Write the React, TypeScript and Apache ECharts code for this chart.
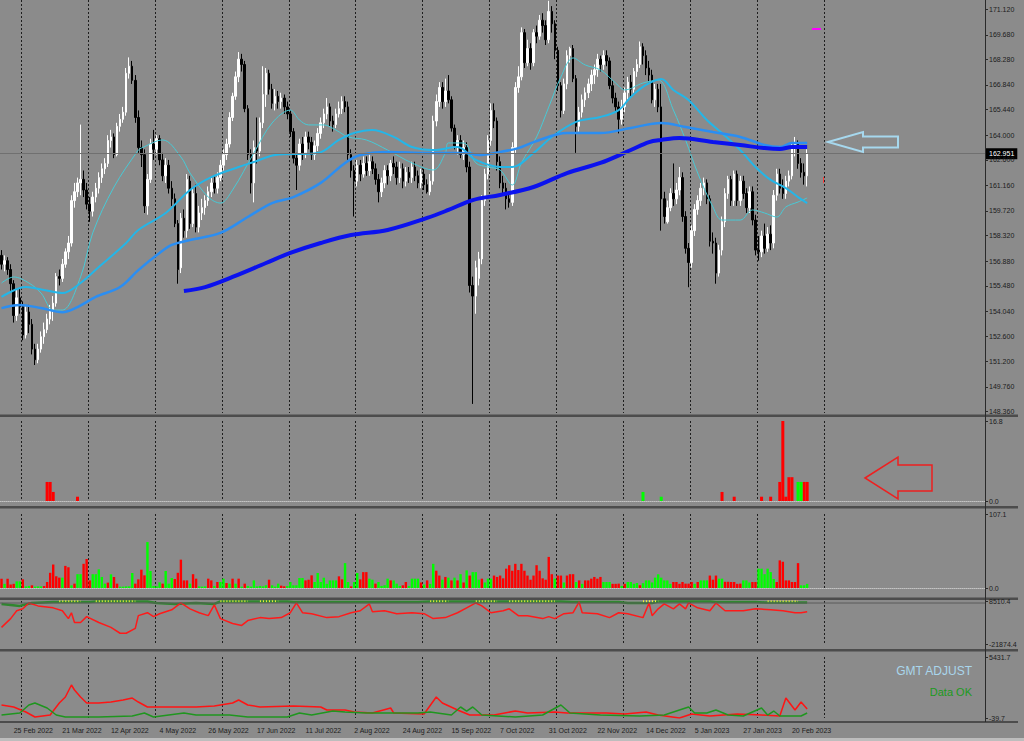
import React, { useEffect, useRef } from 'react';
import * as echarts from 'echarts';

// ---------- data ----------
// candles: [open, close, low, high]
const candles: number[][] = [
  [157.2,156.7,156.4,157.5],[156.7,156.9,156.3,157.2],[156.9,156.4,156.1,157.1],[156.4,155.6,155.2,156.7],[155.6,153.8,153.4,155.8],
  [153.8,154.8,153.5,155.3],[154.8,154.3,153.9,155.3],[154.3,152.7,152.4,154.6],[152.7,154.0,152.5,154.4],[154.0,153.3,152.8,154.4],
  [153.3,151.9,151.6,153.6],[151.9,151.3,151.0,152.2],[151.3,151.9,151.1,152.2],[151.9,152.6,151.7,152.9],[152.6,153.0,152.2,153.4],
  [153.0,153.6,152.8,153.9],[153.6,154.1,153.3,154.4],[154.1,154.5,153.5,154.9],[154.5,156.0,154.3,156.2],[156.0,155.9,155.5,156.4],
  [155.9,156.7,155.7,157.0],[156.7,157.4,156.5,157.6],[157.4,157.9,157.0,158.3],[157.9,160.3,157.7,160.6],[160.3,160.8,159.9,161.3],
  [160.8,161.3,160.5,161.6],[161.3,161.5,160.6,164.6],[161.5,160.9,160.5,162.0],[160.9,160.1,159.8,161.3],[160.1,159.7,159.1,160.5],
  [159.7,160.5,159.4,160.8],[160.5,161.0,160.2,161.3],[161.0,161.6,160.7,161.9],[161.6,162.1,161.3,162.4],[162.1,162.4,161.8,162.7],
  [162.4,163.7,162.2,164.0],[163.7,163.9,163.3,164.3],[163.9,162.9,162.7,164.1],[162.9,164.5,162.8,164.7],[164.5,164.9,164.2,165.2],
  [164.9,165.3,164.7,165.6],[165.3,167.5,165.1,167.8],[167.5,167.9,167.2,168.4],[167.9,167.1,166.9,168.2],[167.1,165.0,164.7,167.4],
  [165.0,163.3,163.0,165.4],[163.3,162.9,162.2,163.7],[162.9,160.0,159.6,163.2],[160.0,161.5,159.5,161.8],[161.5,163.5,161.3,163.8],
  [163.5,163.2,162.6,164.3],[163.2,163.8,162.9,164.0],[163.8,162.6,162.3,164.0],[162.6,161.7,161.4,163.0],[161.7,162.3,161.3,162.7],
  [162.3,161.0,160.7,162.6],[161.0,160.4,160.0,161.4],[160.4,159.0,158.8,160.7],[159.0,156.4,155.6,159.2],[156.5,159.3,156.2,159.6],
  [159.3,158.6,158.2,159.8],[158.6,161.5,158.2,161.8],[161.4,159.0,158.7,161.7],[159.0,160.7,158.8,161.0],[160.7,158.8,158.5,161.2],
  [158.8,159.6,158.5,160.0],[159.6,159.9,159.2,160.4],[159.9,160.3,159.5,160.6],[160.3,160.8,160.0,161.1],[160.8,161.3,160.5,161.6],
  [161.3,161.0,160.7,161.7],[161.0,161.6,160.7,161.9],[161.6,162.3,161.4,162.6],[162.3,162.9,162.0,163.2],[162.9,163.5,162.6,163.8],
  [163.5,165.0,163.3,165.3],[165.0,166.2,164.8,166.4],[166.2,167.3,166.0,167.6],[167.3,168.3,167.0,168.7],[168.3,168.0,167.6,168.6],
  [168.0,165.5,165.3,168.2],[165.5,162.9,162.6,165.7],[162.9,161.3,160.7,163.2],[161.3,163.3,160.2,163.7],[163.3,163.1,162.4,165.0],
  [163.1,164.7,162.8,165.0],[164.7,166.3,164.4,167.9],[166.3,167.5,165.6,167.8],[167.5,166.6,166.3,167.7],[166.6,165.8,165.5,166.9],
  [165.8,166.2,165.4,166.6],[166.2,165.9,165.5,166.5],[165.9,166.1,165.5,166.4],[166.1,165.6,165.2,166.3],[165.6,165.2,164.9,165.9],
  [165.2,164.2,163.9,165.4],[164.2,162.7,162.4,164.4],[162.7,162.3,160.9,163.0],[162.3,163.5,162.0,163.8],[163.5,163.0,162.6,163.9],
  [163.0,163.9,162.7,164.2],[163.9,163.6,163.2,164.2],[163.6,162.9,162.6,163.9],[162.9,163.4,162.6,163.7],[163.4,164.1,163.1,164.4],
  [164.1,164.7,163.8,165.0],[164.7,165.2,164.4,165.5],[165.2,165.6,164.9,166.1],[165.6,164.8,164.5,165.8],[164.8,164.6,164.2,165.1],
  [164.6,165.2,164.4,165.5],[165.2,165.5,165.0,165.9],[165.5,165.9,165.2,166.2],[165.9,165.6,165.3,166.2],[165.6,162.9,162.6,165.9],
  [162.9,162.0,161.6,163.2],[162.0,161.4,159.4,162.3],[161.4,162.3,161.1,162.6],[162.3,161.8,161.4,162.6],[161.8,162.4,161.6,162.8],
  [162.4,162.0,161.7,162.8],[162.0,162.5,161.7,162.9],[162.5,162.1,161.8,162.8],[162.1,161.5,161.2,162.4],[161.5,160.8,160.2,161.8],
  [160.8,161.3,160.5,161.6],[161.3,162.0,161.0,162.3],[162.0,161.7,161.2,162.3],[161.7,162.4,161.4,162.6],[162.4,162.2,161.8,162.8],
  [162.2,161.6,161.2,162.5],[161.6,162.1,161.3,162.5],[162.1,161.4,161.0,162.4],[161.4,161.9,161.1,162.2],[161.9,161.6,161.3,162.2],
  [161.6,162.2,161.3,162.5],[162.2,161.7,161.4,162.5],[161.7,161.3,161.0,162.0],[161.3,161.8,161.0,162.1],[161.8,161.2,160.9,162.1],
  [161.2,160.8,160.7,161.5],[160.8,161.4,160.6,161.8],[161.4,164.8,161.2,165.1],[164.8,165.9,164.5,166.3],[165.9,166.7,165.6,167.0],
  [166.7,165.9,165.5,167.0],[165.9,166.5,165.6,167.2],[166.5,166.0,165.8,167.4],[166.0,164.4,164.2,166.2],[164.4,163.4,163.2,164.6],
  [163.4,163.7,162.9,164.0],[163.7,162.9,162.7,164.0],[162.9,163.3,162.6,163.7],[163.3,162.2,161.9,163.6],[162.2,155.5,155.1,162.5],
  [155.5,154.9,148.8,156.0],[154.9,156.5,153.9,156.9],[155.9,157.0,155.5,157.4],[157.0,160.3,156.7,160.6],[160.3,161.8,160.0,162.1],
  [161.8,163.7,161.5,164.0],[163.7,165.4,163.4,165.8],[165.4,164.8,164.4,165.8],[164.8,162.5,162.0,165.0],[162.5,161.3,161.0,162.8],
  [161.3,161.0,160.6,161.7],[161.0,160.4,159.8,161.3],[160.4,160.2,159.9,160.8],[160.2,163.3,160.0,163.6],[163.3,166.7,163.0,167.0],
  [166.7,167.3,166.4,167.9],[167.3,169.8,167.1,170.1],[169.8,168.1,167.8,170.0],[168.1,168.9,167.9,169.4],[168.9,168.1,167.7,169.2],
  [168.1,169.8,167.9,170.0],[169.8,169.6,169.2,170.2],[169.6,170.5,169.4,170.8],[170.5,170.2,169.8,170.9],[170.2,169.4,169.1,170.5],
  [169.4,171.0,169.2,171.6],[171.0,170.3,169.8,171.3],[170.3,168.8,168.3,170.5],[168.8,166.8,166.5,169.0],[166.8,165.4,165.0,167.0],
  [165.4,166.9,165.2,167.2],[166.9,168.5,166.6,168.8],[168.5,168.9,168.1,169.0],[168.9,167.2,167.0,169.1],[167.2,164.5,163.0,167.4],
  [164.5,165.3,164.2,165.6],[165.3,166.0,165.0,166.3],[166.0,166.4,165.6,166.7],[166.4,166.9,166.1,167.2],[166.9,167.4,166.5,167.7],
  [167.4,167.7,166.9,168.0],[167.7,168.3,167.3,168.6],[168.3,168.0,167.6,168.5],[168.0,168.5,167.7,168.8],[168.5,168.2,167.9,168.8],
  [168.2,166.8,166.6,168.4],[166.8,166.1,165.8,167.1],[166.1,165.6,165.3,166.4],[165.6,164.9,164.1,165.9],[164.9,165.6,164.6,166.0],
  [165.6,166.4,165.3,166.7],[166.4,167.0,166.0,167.3],[167.0,166.6,166.2,167.4],[166.6,167.6,166.4,167.8],[167.6,168.0,167.3,168.3],
  [168.0,169.0,167.8,169.3],[169.0,168.5,168.0,169.2],[168.5,167.8,167.4,168.8],[167.8,167.4,167.0,168.2],[167.4,166.0,165.8,167.7],
  [166.0,166.6,165.6,166.9],[166.6,165.6,165.3,166.9],[165.6,160.4,158.6,166.9],[160.4,159.4,159.0,160.8],[159.1,159.9,159.0,160.3],
  [159.9,160.7,159.7,161.0],[160.7,160.4,160.0,162.4],[160.4,160.9,160.1,161.3],[160.9,161.6,160.6,162.2],[161.6,159.4,159.1,161.9],
  [159.4,157.6,157.3,159.7],[157.6,156.8,155.4,157.9],[156.8,158.6,156.5,158.9],[158.6,159.8,158.3,160.1],[159.8,160.3,159.5,160.6],
  [160.3,161.0,160.0,161.3],[161.0,161.3,160.6,161.6],[161.3,160.4,160.1,161.5],[160.4,158.0,157.7,160.6],[158.0,157.9,157.3,158.5],
  [157.9,156.2,155.6,158.2],[156.2,157.5,156.0,157.8],[157.5,159.1,157.2,159.4],[159.1,160.7,158.8,161.0],[160.7,161.5,160.4,161.7],
  [161.5,160.3,160.0,161.7],[160.3,161.8,160.0,162.0],[161.8,160.3,160.0,162.0],[160.3,161.4,160.0,161.7],[161.4,160.7,160.4,161.7],
  [160.7,159.9,159.6,161.0],[159.9,160.8,159.6,161.1],[160.8,159.2,158.9,161.1],[159.2,157.5,157.2,159.5],[157.5,157.4,156.9,158.3],
  [157.4,158.3,157.1,158.6],[158.3,157.6,157.3,159.0],[157.6,158.4,157.4,158.8],[158.4,157.9,157.5,158.9],[157.9,160.6,157.6,160.9],
  [160.6,161.8,160.3,162.1],[161.8,161.0,160.7,162.1],[161.0,160.7,160.4,161.5],[160.7,161.4,160.4,161.7],[161.4,161.7,161.1,162.0],
  [161.7,163.3,161.5,163.5],[163.3,163.5,162.8,163.9],[163.5,162.4,162.1,163.7],[162.4,161.9,161.6,162.7],[161.9,161.7,161.2,162.4],
  [161.7,162.95,161.1,163.2]
];

// moving-average lines, read as [bar index, price]
const maFast: number[][] = [
  [0,155.64],[4,155.98],[9,155.64],[13,155.07],[17,154.11],[20,154.11],[26,155.98],[30,158.47],[37,161.07],[45,163.16],[46,163.27],
  [53,163.73],[59,162.77],[62,161.86],[68,160.5],[72,160.16],[76,160.9],[83,162.99],[89,164.69],[95,165.42],[98,164.86],[101,164.58],
  [106,164.58],[110,164.29],[114,163.9],[120,163.73],[127,163.16],[135,162.43],[142,162.03],[146,162.99],[147,163.56],[152,163.56],
  [156,162.43],[160,162.2],[164,162.03],[168,161.18],[171,162.43],[176,163.9],[180,165.59],[184,167.29],[188,168.37],[192,167.97],
  [197,167.69],[202,166.95],[205,166.56],[211,166.95],[216,167.12],[221,165.42],[225,163.73],[229,161.86],[234,159.94],[237,159.2],
  [243,159.2],[247,159.77],[251,159.6],[255,159.37],[258,159.94],[262,160.22],[265,160.45]
];
const maMid: number[][] = [
  [0,154.85],[8,155.41],[14,155.24],[20,155.07],[26,155.64],[32,156.54],[41,157.9],[45,158.64],[54,159.6],[62,160.9],[69,161.63],
  [78,162.2],[83,162.48],[90,162.88],[104,162.99],[111,163.73],[116,164.12],[122,164.29],[129,163.9],[135,163.33],[142,163.16],
  [150,163.33],[156,162.6],[164,162.2],[168,162.2],[175,162.99],[181,163.9],[189,164.75],[197,165.03],[203,165.42],[207,166.16],
  [212,166.84],[217,167.18],[221,166.56],[226,165.99],[232,164.86],[237,164.12],[243,163.16],[248,162.2],[253,161.47],[258,161.01],
  [262,160.5],[265,160.16]
];
const maSlow: number[][] = [
  [0,154.22],[6,154.4],[13,154.22],[20,153.99],[25,154.28],[31,154.85],[39,155.41],[45,156.37],[52,157.34],[56,157.79],[62,158.07],
  [72,158.47],[81,159.37],[89,160.16],[96,160.5],[105,161.3],[113,162.43],[118,162.88],[127,163.05],[140,162.99],[153,162.99],
  [157,162.88],[164,163.05],[170,163.27],[175,163.61],[186,164.12],[197,164.12],[207,164.41],[217,164.69],[225,164.46],[234,164.18],
  [243,163.9],[251,163.44],[256,163.33],[260,163.56],[265,163.56]
];
const ma200: number[][] = [
  [60,155.19],[67,155.41],[76,155.98],[87,156.77],[95,157.34],[105,157.9],[115,158.35],[127,158.64],[140,159.32],[147,159.77],
  [155,160.33],[164,160.62],[175,161.07],[186,161.86],[197,162.43],[207,163.16],[213,163.61],[217,163.73],[223,163.84],[234,163.61],
  [243,163.44],[251,163.27],[256,163.22],[260,163.33],[265,163.33]
];

const priceTicks = [148.36,149.76,151.2,152.6,154.04,155.48,156.88,158.32,159.72,161.16,162.6,164.0,165.44,166.84,168.28,169.68,171.12];
const lastPrice = 162.951;

const dateLabels = ['25 Feb 2022','21 Mar 2022','12 Apr 2022','4 May 2022','26 May 2022','17 Jun 2022','11 Jul 2022','2 Aug 2022',
  '24 Aug 2022','15 Sep 2022','7 Oct 2022','31 Oct 2022','22 Nov 2022','14 Dec 2022','5 Jan 2023','27 Jan 2023','20 Feb 2023'];
const dateLabelIndex = [4,20,36,52,68,84,100,116,132,148,164,180,196,212,228,244,260];
const gridLineIndex = [7,29,51,73,95,117,139,161,183,205,227,249,271];

// sub-window 1 (signal bars)
const flagRed: number[][] = [[15,4.0],[16,4.0],[17,1.9],[25,0.9],[237,1.9],[241,0.9],[250,0.9],[253,0.9],[256,4.0],[257,16.8],[258,0.9],[259,5.0],[260,5.0],[264,4.0],[265,4.0]];
const flagGreen: number[][] = [[211,1.9],[217,0.9],[262,4.0],[263,4.0]];

// sub-window 2 (histogram) [value, colour]
const hist: [number, string][] = [
  [13.5,'r'],[6,'g'],[13.5,'r'],[5,'r'],[6,'r'],[9.6,'g'],[9.6,'g'],[12.5,'r'],[2.4,'g'],[3,'g'],
  [3.9,'r'],[2,'g'],[2.4,'g'],[2.4,'g'],[2.8,'r'],[8.7,'r'],[22,'r'],[34,'r'],[17,'r'],[15,'r'],
  [15,'g'],[32,'r'],[30,'r'],[3.9,'g'],[6.3,'r'],[20,'g'],[20,'g'],[35,'r'],[42,'r'],[11,'r'],
  [20,'g'],[20,'g'],[27,'g'],[16,'g'],[6.3,'g'],[7.8,'r'],[19.8,'g'],[15.9,'r'],[6.3,'r'],[2,'g'],
  [2,'g'],[2.4,'g'],[2.4,'g'],[21.7,'g'],[6.3,'r'],[12.5,'r'],[26.5,'r'],[18.3,'r'],[66.5,'g'],[24.6,'g'],
  [3,'g'],[2.4,'g'],[8.2,'g'],[6.3,'r'],[24.6,'g'],[6.3,'g'],[14.5,'g'],[13,'r'],[22,'r'],[41,'r'],
  [11,'r'],[11,'r'],[6.3,'g'],[20,'r'],[13.5,'r'],[2.4,'g'],[2,'g'],[2.4,'g'],[13.5,'r'],[11,'r'],
  [3,'g'],[8.7,'r'],[8.7,'g'],[13.5,'g'],[7.2,'r'],[6.3,'g'],[13.5,'r'],[6.3,'g'],[13.5,'r'],[2,'g'],
  [6.3,'r'],[3,'g'],[2,'g'],[11,'g'],[2.4,'g'],[3,'g'],[2.4,'g'],[3.9,'g'],[12,'r'],[3.9,'g'],
  [2,'g'],[6.3,'g'],[3.4,'r'],[2.4,'r'],[3,'g'],[8.7,'g'],[3.9,'g'],[3.9,'g'],[14.5,'g'],[14.5,'g'],
  [11,'r'],[12,'r'],[18.3,'r'],[8.7,'g'],[21.7,'g'],[8.7,'g'],[14.9,'g'],[6,'g'],[11,'g'],[11,'g'],
  [11,'g'],[16.9,'r'],[12.5,'r'],[36,'g'],[8.7,'g'],[2.4,'r'],[8.7,'g'],[21.7,'g'],[12.5,'r'],[23,'r'],
  [23,'r'],[13.5,'g'],[12,'g'],[6.3,'r'],[8.7,'g'],[3,'g'],[4,'g'],[13.5,'g'],[11,'r'],[11,'g'],
  [6.3,'g'],[3,'g'],[3.9,'r'],[8.7,'r'],[3,'g'],[13.5,'g'],[13.5,'g'],[13.5,'g'],[8,'r'],[5,'g'],
  [11,'r'],[6,'g'],[35,'g'],[25,'r'],[18,'r'],[12,'g'],[16,'r'],[15,'g'],[11,'r'],[15,'g'],
  [11,'r'],[20,'g'],[8,'r'],[25.5,'g'],[18,'r'],[23,'g'],[23,'g'],[12,'g'],[13.5,'r'],[8,'g'],
  [13.5,'g'],[13.5,'g'],[18,'r'],[16,'r'],[18,'r'],[14,'r'],[28,'r'],[33,'r'],[25,'r'],[35,'r'],
  [26,'r'],[35,'r'],[25,'r'],[18,'r'],[12,'r'],[18,'r'],[33,'r'],[25,'r'],[14,'r'],[12,'r'],
  [45,'r'],[20,'r'],[13.5,'g'],[18,'r'],[18,'r'],[8,'g'],[18,'r'],[20,'r'],[20,'r'],[8.7,'g'],
  [11,'r'],[6,'g'],[11,'r'],[11,'r'],[13.5,'r'],[16,'r'],[13.5,'r'],[16,'r'],[8.7,'g'],[8.7,'g'],
  [8.7,'g'],[6,'r'],[6,'r'],[6.3,'r'],[3,'g'],[6,'r'],[8.7,'g'],[8.7,'g'],[6,'g'],[7.2,'g'],
  [4,'r'],[7,'g'],[11,'g'],[11,'g'],[8,'g'],[15,'g'],[19.8,'g'],[15,'g'],[11,'g'],[11,'g'],
  [6,'g'],[8.7,'r'],[8.7,'r'],[6,'r'],[8.7,'r'],[6.3,'r'],[6.3,'r'],[8.7,'r'],[6,'g'],[8.7,'r'],
  [11,'g'],[11,'g'],[11,'g'],[18,'r'],[12,'r'],[18,'r'],[13.5,'g'],[13.5,'g'],[9,'r'],[9,'r'],
  [8.7,'r'],[8.7,'r'],[6,'r'],[6.3,'r'],[11,'g'],[11,'g'],[8,'g'],[8.7,'r'],[8.7,'r'],[28,'g'],
  [28,'g'],[20,'g'],[28,'g'],[23,'g'],[13,'g'],[8.7,'r'],[40,'r'],[38,'r'],[11,'r'],[11,'r'],
  [8.7,'r'],[8.7,'r'],[36,'r'],[3.9,'g'],[3.9,'g'],[6,'g']
];

// sub-window 3
const osc3Red: number[][] = [
  [0,-10136],[3,-3920],[5,1604],[7,2986],[9,7129],[12,5057],[17,3676],[20,1604],[22,-3920],[23,223],[24,-6683],[26,-6683],
  [28,-2539],[32,-6683],[36,-10136],[39,-14280],[41,-14280],[44,-10826],[45,-1849],[48,223],[50,-2539],[52,-467],[56,2295],
  [59,7129],[62,2986],[65,223],[68,-1849],[70,5748],[72,-3920],[76,-7373],[79,-8755],[81,-5302],[85,-3230],[88,-3920],
  [92,-3230],[95,223],[97,7129],[99,223],[102,-467],[107,-3230],[111,-2539],[115,223],[118,1604],[121,6439],[122,914],
  [126,1604],[130,-467],[135,223],[139,-467],[142,-3920],[146,-3230],[150,223],[153,3676],[156,7129],[158,5057],[161,223],
  [165,1604],[167,2986],[170,-1849],[173,-1849],[178,-3920],[180,-2539],[182,-3920],[185,-467],[188,223],[190,7820],
  [191,223],[196,-467],[200,-3230],[203,223],[206,-467],[211,-3230],[213,7129],[214,-1849],[216,2986],[218,6439],
  [221,2986],[223,6439],[225,2986],[226,7129],[229,3676],[233,1604],[235,7129],[238,1604],[240,1604],[244,1604],
  [248,2986],[253,2295],[257,1604],[261,223],[263,223],[265,914]
];
const osc3Green: number[][] = [
  [0,6439],[6,5057],[10,7129],[17,7820],[29,7820],[31,8165],[48,8165],[51,7129],[57,6439],[64,7129],[70,6439],[72,8165],
  [94,8165],[96,7820],[111,7820],[137,7820],[141,8165],[150,8165],[154,8165],[164,8165],[167,8165],[184,8165],[188,7820],
  [203,7820],[206,7129],[214,7129],[216,8165],[233,8165],[235,7820],[248,7820],[251,7475],[265,7475]
];
const osc3DotSegments: number[][] = [[19,26],[31,44],[72,81],[85,91],[141,147],[156,163],[167,174],[175,182],[211,216],[252,262]];
const osc3DotLevel = 8300;

// sub-window 4
const osc4Red: number[][] = [
  [0,1126],[4,947],[8,498],[11,49],[16,229],[19,1305],[21,1844],[23,2920],[24,2472],[26,1844],[28,1305],[32,1305],[36,1395],
  [40,1575],[43,1754],[45,1395],[48,947],[55,947],[64,947],[70,1036],[76,1305],[78,1575],[81,1126],[85,947],[96,1036],
  [105,947],[107,677],[113,677],[116,498],[122,408],[128,857],[129,408],[139,319],[143,1844],[145,1305],[150,677],[154,229],
  [162,229],[169,588],[173,408],[182,498],[186,408],[193,408],[199,408],[205,319],[212,498],[216,229],[223,-40],[227,319],
  [233,139],[242,319],[250,229],[256,139],[258,1754],[261,677],[263,1395],[265,767]
];
const osc4Green: number[][] = [
  [0,229],[6,408],[9,1126],[11,1305],[15,857],[18,229],[21,49],[32,49],[43,139],[47,408],[50,49],[60,408],[64,229],[75,229],
  [81,49],[94,49],[98,408],[102,229],[109,588],[113,498],[120,408],[128,408],[137,408],[141,498],[148,229],[151,947],[153,588],
  [155,947],[158,229],[169,49],[178,229],[184,1126],[187,408],[197,229],[210,139],[218,229],[226,947],[228,408],[232,408],
  [235,677],[239,229],[244,139],[250,857],[252,229],[254,588],[256,139],[263,139],[265,408]
];

const SLOTS = 324;
const PLOT_W = 985;

export default function App() {
  const ref = useRef<HTMLDivElement>(null);

  useEffect(() => {
    const chart = echarts.init(ref.current as HTMLDivElement, null, { renderer: 'svg' });
    const cats = Array.from({ length: SLOTS }, (_, i) => String(i));
    const font = 'Liberation Sans';
    const labelColor = '#1c1c1c';

    const grids = [
      { left: 0, top: 0, width: PLOT_W, height: 413 },
      { left: 0, top: 421, width: PLOT_W, height: 80 },
      { left: 0, top: 514, width: PLOT_W, height: 74 },
      { left: 0, top: 601, width: PLOT_W, height: 43 },
      { left: 0, top: 657, width: PLOT_W, height: 61 },
    ];

    const xAxes = grids.map((_, g) => ({
      type: 'category',
      gridIndex: g,
      data: cats,
      boundaryGap: true,
      axisLine: {
        show: g === 1 || g === 2,
        onZero: true,
        lineStyle: { color: '#c4c4c4', type: 'dotted', width: 1 },
      },
      axisTick: { show: false },
      axisLabel: g === 4
        ? {
            show: true,
            interval: (idx: number) => dateLabelIndex.includes(idx),
            formatter: (_v: string, idx: number) => {
              const k = dateLabelIndex.indexOf(idx);
              return k >= 0 ? dateLabels[k] : '';
            },
            align: 'left',
            margin: 9,
            color: labelColor,
            fontSize: 7,
            fontFamily: font,
          }
        : { show: false },
      splitLine: {
        show: true,
        interval: (idx: number) => gridLineIndex.includes(idx),
        lineStyle: { color: '#1e1e1e', type: [2, 2], width: 1 },
      },
    }));

    const yDefs = [
      { min: 148.286, max: 171.646, ticks: priceTicks, digits: 3 },
      { min: 0, max: 16.8, ticks: [0, 16.8], digits: 1 },
      { min: 0, max: 107.1, ticks: [0, 107.1], digits: 1 },
      { min: -21874.4, max: 8510.4, ticks: [-21874.4, 8510.4], digits: 1 },
      { min: -39.7, max: 5431.7, ticks: [-39.7, 5431.7], digits: 1 },
    ];
    const yAxes = yDefs.map((d, g) => ({
      type: 'value',
      gridIndex: g,
      position: 'right',
      min: d.min,
      max: d.max,
      z: 120,
      axisLine: { show: false },
      axisTick: { show: true, length: 3, customValues: d.ticks, lineStyle: { color: '#2a2a2a' } },
      axisLabel: {
        show: true,
        customValues: d.ticks,
        formatter: (v: number) => v.toFixed(d.digits),
        color: labelColor,
        fontSize: 7,
        fontFamily: font,
        margin: 4,
      },
      splitLine: { show: false },
    }));

    const histData = hist.map(([v, c], i) => ({
      value: [i, v],
      itemStyle: { color: c === 'g' ? '#00ff00' : '#ff0000' },
    }));

    const dotData: (number | null)[] = candles.map(() => null);
    osc3DotSegments.forEach(([a, b]) => {
      for (let i = a; i <= b; i++) dotData[i] = osc3DotLevel;
    });

    const maLine = (data: number[][], color: string, width: number) => ({
      type: 'line',
      xAxisIndex: 0,
      yAxisIndex: 0,
      data,
      smooth: 0.35,
      symbol: 'none',
      lineStyle: { color, width },
      silent: true,
    });

    const subLine = (g: number, data: number[][], color: string, width: number) => ({
      type: 'line',
      xAxisIndex: g,
      yAxisIndex: g,
      data,
      symbol: 'none',
      lineStyle: { color, width },
      silent: true,
    });

    const sepRect = (y: number, h: number, fill: string) => ({
      type: 'rect',
      shape: { x: 0, y, width: 1018, height: h },
      style: { fill },
      silent: true,
      z: 100,
    });

    const option: any = {
      animation: false,
      backgroundColor: '#8b8b8b',
      textStyle: { fontFamily: font },
      grid: grids,
      xAxis: xAxes,
      yAxis: yAxes,
      series: [
        {
          type: 'candlestick',
          xAxisIndex: 0,
          yAxisIndex: 0,
          data: candles,
          barWidth: 2,
          itemStyle: {
            color: '#ffffff',
            color0: '#000000',
            borderColor: '#ffffff',
            borderColor0: '#000000',
            borderWidth: 1,
          },
          markLine: {
            silent: true,
            symbol: ['none', 'none'],
            data: [{ yAxis: lastPrice }],
            lineStyle: { color: '#707070', width: 1, type: 'solid' },
            label: {
              show: true,
              position: 'end',
              formatter: lastPrice.toFixed(3),
              backgroundColor: '#000000',
              color: '#ffffff',
              fontSize: 7,
              fontFamily: font,
              padding: [2, 3],
              distance: 1,
            },
          },
        },
        maLine(maFast, '#48cad6', 1),
        maLine(maMid, '#24b6e8', 2),
        maLine(maSlow, '#2b8ef2', 2.5),
        maLine(ma200, '#0b12ee', 4),
        {
          type: 'bar', xAxisIndex: 1, yAxisIndex: 1, data: flagRed, barWidth: 3, barGap: '-100%',
          itemStyle: { color: '#ff0000' }, silent: true,
        },
        {
          type: 'bar', xAxisIndex: 1, yAxisIndex: 1, data: flagGreen, barWidth: 3, barGap: '-100%',
          itemStyle: { color: '#00ff00' }, silent: true,
        },
        {
          type: 'bar', xAxisIndex: 2, yAxisIndex: 2, data: histData, barWidth: 2.4, silent: true,
        },
        subLine(3, osc3Green, '#2f862f', 2.5),
        {
          type: 'line', xAxisIndex: 3, yAxisIndex: 3, data: dotData, symbol: 'none', connectNulls: false,
          lineStyle: { color: '#f2f23a', width: 2, type: [1, 2] }, silent: true,
        },
        subLine(3, osc3Red, '#ff1a1a', 1.5),
        subLine(4, osc4Red, '#ff1414', 1.5),
        subLine(4, osc4Green, '#1f961f', 1.5),
      ],
      graphic: [
        sepRect(414.5, 2.5, '#4c4c4c'),
        sepRect(506, 2.5, '#4c4c4c'),
        sepRect(597.5, 2.5, '#4c4c4c'),
        sepRect(649, 2.5, '#4c4c4c'),
        sepRect(721, 2, '#4c4c4c'),
        {
          type: 'line', shape: { x1: 0, y1: 603, x2: PLOT_W, y2: 603 },
          style: { stroke: '#5a5a5a', lineWidth: 1 }, silent: true, z: 90,
        },
        {
          type: 'line', shape: { x1: PLOT_W + 0.5, y1: 0, x2: PLOT_W + 0.5, y2: 722 },
          style: { stroke: '#2a2a2a', lineWidth: 1 }, silent: true, z: 100,
        },
        {
          type: 'rect', shape: { x: 0, y: 738, width: 1024, height: 3 },
          style: { fill: '#bdbdbd' }, silent: true,
        },
        {
          type: 'polygon',
          shape: { points: [[828, 142], [863, 132], [863, 136.5], [898, 136.5], [898, 147.5], [863, 147.5], [863, 152]] },
          style: { fill: 'none', stroke: '#a6d8ee', lineWidth: 2 },
          silent: true, z: 110,
        },
        {
          type: 'polygon',
          shape: { points: [[865, 478], [898, 457], [898, 465], [932, 465], [932, 491], [898, 491], [898, 499]] },
          style: { fill: 'none', stroke: '#ee2020', lineWidth: 1.5 },
          silent: true, z: 110,
        },
        {
          type: 'line', shape: { x1: 812, y1: 29, x2: 821, y2: 29 },
          style: { stroke: '#ff00ff', lineWidth: 2 }, silent: true, z: 110,
        },
        {
          type: 'line', shape: { x1: 823.5, y1: 177, x2: 823.5, y2: 183 },
          style: { stroke: '#ff3a3a', lineWidth: 1 }, silent: true, z: 110,
        },
        {
          type: 'text', x: 972, y: 671, silent: true, z: 110,
          style: { text: 'GMT ADJUST', fill: '#a9d6ec', font: '12px "Liberation Sans"', align: 'right', verticalAlign: 'middle' },
        },
        {
          type: 'text', x: 972, y: 692, silent: true, z: 110,
          style: { text: 'Data OK', fill: '#1c9a1c', font: '11px "Liberation Sans"', align: 'right', verticalAlign: 'middle' },
        },
      ],
    };

    chart.setOption(option);
    return () => chart.dispose();
  }, []);

  return (
    <div
      ref={ref}
      style={{ position: 'fixed', left: 0, top: 0, width: 1024, height: 741 }}
    />
  );
}
